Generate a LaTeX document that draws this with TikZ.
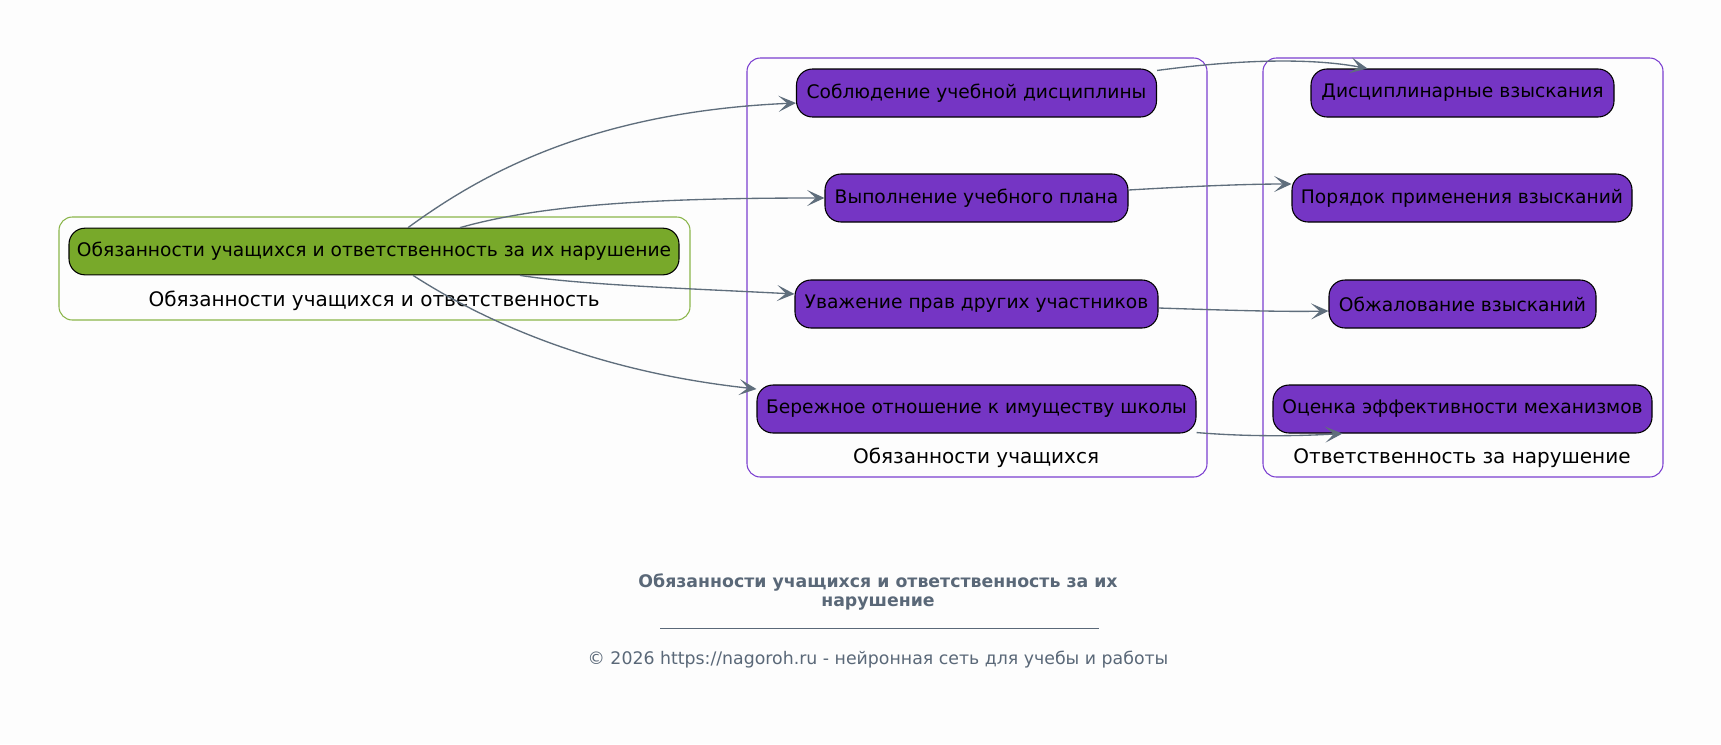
\documentclass[tikz,border=0pt]{standalone}
\usepackage{fontspec}
\setmainfont{DejaVu Sans}
\usepackage{tikz}
\usetikzlibrary{arrows.meta, calc, positioning}
\definecolor{bgcol}{HTML}{FDFDFD}
\definecolor{edgecol}{HTML}{5F6E7C}
\definecolor{titlecol}{HTML}{5A6878}
\definecolor{rootfill}{HTML}{78A92A}
\definecolor{rootline}{HTML}{8AB54A}
\definecolor{itemfill}{HTML}{7535C4}
\definecolor{itemline}{HTML}{7B3FD0}

\begin{document}
\begin{tikzpicture}[x=0.75pt, y=-0.75pt,
  every node/.style={font=\fontsize{14}{17}\selectfont, inner sep=0pt},
  boxw/.style={minimum width=#1*0.75pt},
  item/.style={draw=black, fill=itemfill, line width=0.8pt, rounded corners=12pt, minimum height=36pt},
  root/.style={draw=black, fill=rootfill, line width=0.8pt, rounded corners=12pt, minimum height=35pt},
  cluster/.style={rounded corners=10pt, line width=0.8pt},
  clabel/.style={font=\fontsize{15}{18}\selectfont},
  link/.style={draw=edgecol, line width=1pt, -{Stealth[inset=6.5pt, length=13pt, width=12pt]}}]
\fill [bgcol] (0,0) rectangle (1721,744);
\draw [cluster, rootline] (59,217) rectangle (690,320);
\draw [cluster, itemline] (747,58) rectangle (1207,477);
\draw [cluster, itemline] (1263,58) rectangle (1663,477);
\node [clabel] (lblroot) at (374,301) {Обязанности учащихся и ответственность};
\node [clabel] (lblduty) at (976,458) {Обязанности учащихся};
\node [clabel] (lblresp) at (1462,458) {Ответственность за нарушение};
\node [root, boxw=610] (g) at (374,251.5) {Обязанности учащихся и ответственность за их нарушение};
\node [item, boxw=360] (n1) at (976.5,93) {Соблюдение учебной дисциплины};
\node [item, boxw=303] (n2) at (976.5,198) {Выполнение учебного плана};
\node [item, boxw=363] (n3) at (976.5,304) {Уважение прав других участников};
\node [item, boxw=439] (n4) at (976.5,409) {Бережное отношение к имуществу школы};
\node [item, boxw=303] (r1) at (1462.5,93) {Дисциплинарные взыскания};
\node [item, boxw=340] (r2) at (1462,198) {Порядок применения взысканий};
\node [item, boxw=267] (r3) at (1462.5,304) {Обжалование взысканий};
\node [item, boxw=379] (r4) at (1462.5,409) {Оценка эффективности механизмов};
\draw [link] ($(g.north)+(34,0)$) .. controls (480,175) and (590,112) .. ($(n1.west)+(0,10)$);
\draw [link] ($(g.north)+(86,0)$) .. controls (540,205) and (650,198) .. (n2.west);
\draw [link] ($(g.south)+(146,0)$) .. controls (580,285) and (700,289) .. ($(n3.west)+(0,-10)$);
\draw [link] ($(g.south)+(39,0)$) .. controls (490,325) and (600,372) .. ($(n4.west)+(0,-20)$);
\draw [link] ($(n1.north east)+(0,2)$) .. controls (1220,62) and (1300,56) .. ($(r1.north)+(-95,0)$);
\draw [link] ($(n2.east)+(0,-8)$) .. controls (1180,187) and (1240,184) .. ($(r2.west)+(0,-14)$);
\draw [link] ($(n3.east)+(0,4)$) .. controls (1220,310) and (1280,312) .. ($(r3.west)+(0,7)$);
\draw [link] ($(n4.south east)+(0,-1)$) .. controls (1250,437) and (1300,436) .. ($(r4.south)+(-120,0)$);
\node [font=\fontsize{13}{14.5}\selectfont\bfseries, text=titlecol, align=center] (title) at (878,592) {Обязанности учащихся и ответственность за их\\нарушение};
\coordinate (ruleL) at (660,628);
\coordinate (ruleR) at (1099,628);
\draw [titlecol, line width=0.6pt] (ruleL) -- (ruleR);
\node [font=\fontsize{13}{15}\selectfont, text=titlecol] (copy) at (878,660) {© 2026 https://nagoroh.ru - нейронная сеть для учебы и работы};
\end{tikzpicture}
\end{document}
